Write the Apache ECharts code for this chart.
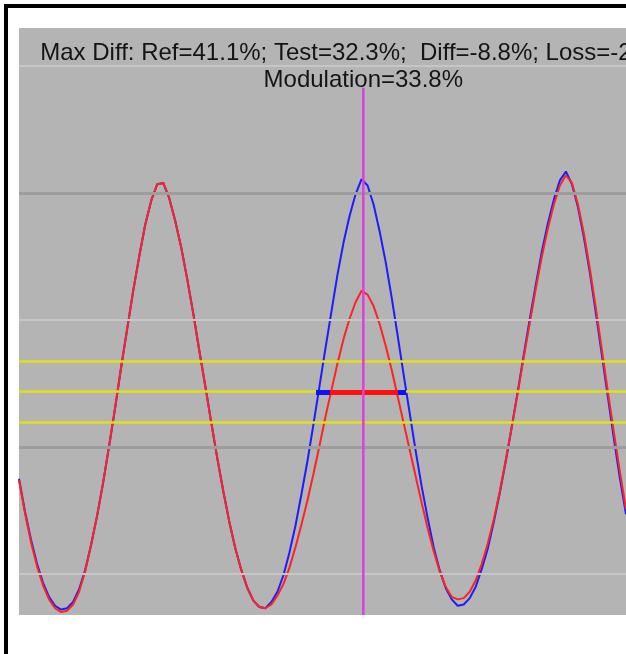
<!DOCTYPE html>
<html>
<head>
<meta charset="utf-8">
<title>Max Diff</title>
<script src="https://cdn.jsdelivr.net/npm/echarts@6/dist/echarts.min.js"></script>
<style>
  html, body { margin: 0; padding: 0; background: #fff; }
  #chart { position: absolute; left: 0; top: 0; width: 626px; height: 654px; }
  /* black frame of the original window (right/bottom edges are cut off) */
  #frame { position: absolute; left: 4px; top: 4px; width: 622px; height: 650px;
           border-top: 4px solid #000; border-left: 4px solid #000;
           box-sizing: border-box; pointer-events: none; }
</style>
</head>
<body>
<div id="chart"></div>
<div id="frame"></div>
<script>
// Ref (blue) and Test (red) profiles, one value (%) per sample
var refValues = [
  17.5, 14.9, 12.7, 10.8, 9.3, 8.2, 7.5, 7.2, 7.3, 7.8,
  8.8, 10.3, 12.3, 14.6, 17.2, 20.1, 23.1, 26.3, 29.3, 32.3,
  35.0, 37.5, 39.4, 40.7, 40.8, 39.6, 37.8, 35.7, 33.2, 30.5,
  27.6, 24.8, 21.9, 19.1, 16.5, 14.1, 12.0, 10.3, 8.9, 7.9,
  7.4, 7.3, 7.8, 8.6, 9.9, 11.7, 13.8, 16.3, 18.9, 21.8,
  24.8, 27.8, 30.7, 33.6, 36.1, 38.2, 39.9, 41.1, 40.6, 39.1,
  37.0, 34.6, 31.8, 28.8, 25.7, 22.7, 19.7, 16.9, 14.4, 12.1,
  10.3, 8.9, 8.0, 7.5, 7.6, 8.1, 9.0, 10.4, 12.0, 14.1,
  16.4, 18.9, 21.6, 24.4, 27.3, 30.1, 32.8, 35.4, 37.6, 39.5,
  41.0, 41.7, 40.7, 38.9, 36.5, 33.7, 30.5, 27.2, 23.9, 20.6,
  17.5, 14.7
];
var testValues = [
  17.4, 14.8, 12.5, 10.6, 9.1, 8.0, 7.3, 7.0, 7.1, 7.6,
  8.6, 10.2, 12.3, 14.6, 17.2, 20.1, 23.1, 26.3, 29.3, 32.3,
  35.0, 37.5, 39.4, 40.7, 40.8, 39.6, 37.8, 35.7, 33.2, 30.5,
  27.6, 24.8, 21.9, 19.1, 16.5, 14.1, 12.0, 10.3, 8.9, 7.9,
  7.4, 7.3, 7.6, 8.3, 9.2, 10.5, 12.1, 13.9, 15.8, 17.9,
  20.1, 22.4, 24.5, 26.6, 28.5, 30.1, 31.4, 32.3, 32.0, 31.1,
  29.7, 28.0, 26.1, 24.0, 21.9, 19.8, 17.7, 15.6, 13.6, 11.8,
  10.2, 9.0, 8.2, 8.0, 8.1, 8.6, 9.5, 10.8, 12.4, 14.3,
  16.5, 19.0, 21.6, 24.3, 27.1, 29.8, 32.5, 35.0, 37.2, 39.1,
  40.6, 41.4, 40.8, 39.1, 36.8, 34.0, 30.9, 27.6, 24.3, 21.1,
  18.0, 15.1
];

var gridLevels = [10, 20, 30, 40, 50];          // horizontal grid, light / dark alternating
var thresholdLevels = [26.75, 24.4, 21.95];      // yellow lines
var cursorX = 57.29;                             // magenta marker (sample units)
var cursorTop = 48.3;
var halfLevel = 24.3;                            // width markers
var refEdges = [49.42, 64.39];
var testEdges = [51.75, 63.06];

var headerLine1 = 'Max Diff: Ref=41.1%; Test=32.3%;  Diff=-8.8%; Loss=-21.4%';
var headerLine2 = 'Modulation=33.8%';

var yMin = 6.77, yMax = 53.0;

function toPairs(arr) {
  return arr.map(function (v, i) { return [i, v]; });
}

var myChart = echarts.init(document.getElementById('chart'));

var gridMarks = gridLevels.map(function (lv, i) {
  var dark = (i % 2 === 1);
  return {
    yAxis: lv,
    lineStyle: { color: dark ? '#9d9d9d' : '#c6c6c6', width: dark ? 3 : 2, type: 'solid' }
  };
});
var yellowMarks = thresholdLevels.map(function (lv) {
  return { yAxis: lv, lineStyle: { color: '#e0e016', width: 2.5, type: 'solid' } };
});

var option = {
  animation: false,
  backgroundColor: '#ffffff',
  grid: {
    left: 19, right: 0, top: 28, bottom: 39,
    show: true,
    backgroundColor: '#b4b4b4',
    borderWidth: 0
  },
  xAxis: {
    type: 'value',
    min: 0,
    max: refValues.length - 1,
    show: false
  },
  yAxis: {
    type: 'value',
    min: yMin,
    max: yMax,
    show: false,
    splitLine: { show: false }
  },
  series: [
    {
      // grid + threshold lines only
      name: 'levels',
      type: 'line',
      data: [],
      z: 1,
      markLine: {
        silent: true,
        symbol: ['none', 'none'],
        label: { show: false },
        data: gridMarks.concat(yellowMarks)
      }
    },
    {
      name: 'Ref',
      type: 'line',
      data: toPairs(refValues),
      showSymbol: false,
      lineStyle: { color: '#1c1cff', width: 2 },
      itemStyle: { color: '#1c1cff' },
      z: 3
    },
    {
      name: 'Test',
      type: 'line',
      data: toPairs(testValues),
      showSymbol: false,
      lineStyle: { color: '#ff2222', width: 2 },
      itemStyle: { color: '#ff2222' },
      z: 4
    },
    {
      name: 'Ref width',
      type: 'line',
      data: [[refEdges[0], halfLevel], [refEdges[1], halfLevel]],
      showSymbol: false,
      lineStyle: { color: '#1010ff', width: 5 },
      z: 5
    },
    {
      name: 'Test width',
      type: 'line',
      data: [[testEdges[0], halfLevel], [testEdges[1], halfLevel]],
      showSymbol: false,
      lineStyle: { color: '#ff1010', width: 5 },
      z: 6
    },
    {
      name: 'cursor',
      type: 'line',
      data: [[cursorX, yMin], [cursorX, cursorTop]],
      showSymbol: false,
      lineStyle: { color: '#e03ee0', width: 2.5 },
      z: 7
    }
  ]
};

myChart.setOption(option);

// header text centred on the cursor position
var cx = myChart.convertToPixel({ gridIndex: 0 }, [cursorX, yMax])[0];
var headerFont = '24px "Liberation Sans", Arial, sans-serif';
myChart.setOption({
  graphic: [
    {
      type: 'text', x: cx, y: 53, z: 10,
      style: { text: headerLine1, fill: '#141414', font: headerFont, textAlign: 'center', textVerticalAlign: 'middle' }
    },
    {
      type: 'text', x: cx, y: 80.5, z: 10,
      style: { text: headerLine2, fill: '#141414', font: headerFont, textAlign: 'center', textVerticalAlign: 'middle' }
    }
  ]
});
</script>
</body>
</html>
